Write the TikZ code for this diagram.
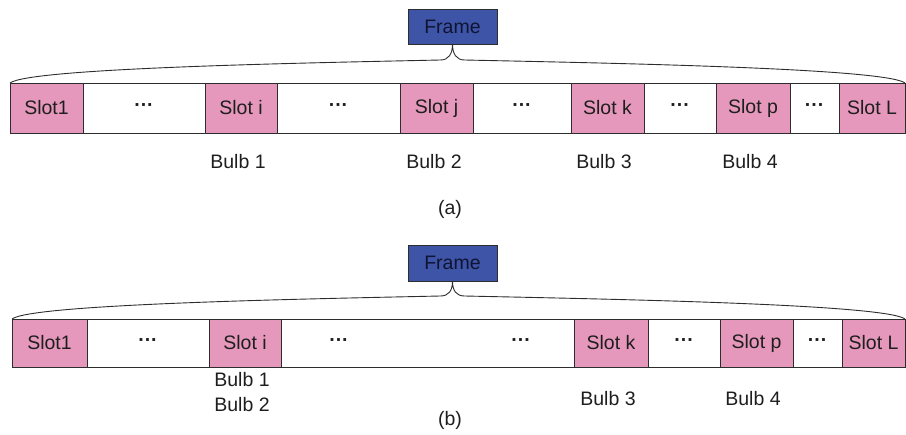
\documentclass[tikz,border=0pt]{standalone}
\usepackage{fontspec}
\setmainfont{Liberation Sans}
\usetikzlibrary{calc}
\definecolor{slotpink}{RGB}{230,152,188}
\definecolor{frameblue}{RGB}{62,84,166}
\definecolor{linegray}{RGB}{45,45,45}
\definecolor{textgray}{RGB}{30,30,30}
\definecolor{frametext}{RGB}{15,20,50}
\newcommand{\dotsmid}{\textbf{···}}
\begin{document}
\begin{tikzpicture}[x=1pt,y=-1pt,
  font=\fontsize{19.5}{23}\selectfont,
  slotbox/.style={draw=linegray, line width=0.8pt, fill=slotpink, anchor=north west,
    minimum height=50pt, inner sep=0pt, outer sep=0pt, text=textgray},
  gapbox/.style={slotbox, fill=white},
  framebox/.style={draw=linegray, line width=0.8pt, fill=frameblue, anchor=north west,
    minimum width=89pt, minimum height=35pt, inner sep=0pt, outer sep=0pt, text=frametext},
  brace/.style={draw=linegray, line width=0.9pt},
  lbl/.style={text=textgray, inner sep=0pt}]
\useasboundingbox (0,0) rectangle (906,435);

% ---------- (a) ----------
\node[framebox] (fa) at (408,9) {Frame};
\node[slotbox, minimum width=73pt]  (a1) at (10,83)  {Slot1};
\node[gapbox,  minimum width=122pt] (ad1) at (83,83) {\dotsmid};
\node[slotbox, minimum width=72pt]  (ai) at (205,83) {Slot i};
\node[gapbox,  minimum width=123pt] (ad2) at (277,83) {\dotsmid};
\node[slotbox, minimum width=73pt]  (aj) at (400,83) {Slot j};
\node[gapbox,  minimum width=98pt]  (ad3) at (473,83) {\dotsmid};
\node[slotbox, minimum width=73pt]  (ak) at (571,83) {Slot k};
\node[gapbox,  minimum width=72pt]  (ad4) at (644,83) {\dotsmid};
\node[slotbox, minimum width=74pt]  (ap) at (716,83) {Slot p};
\node[gapbox,  minimum width=49pt]  (ad5) at (790,83) {\dotsmid};
\node[slotbox, minimum width=66pt]  (aL) at (839,83) {Slot L};

\draw[brace] (a1.north west) .. controls +(20,-15) and +(-138,3) .. ($(fa.south)+(-12,16)$)
  .. controls +(8,0) and +(0,10) .. (fa.south)
  .. controls +(0,10) and +(-8,0) .. ($(fa.south)+(12,16)$)
  .. controls +(138,3) and +(-20,-15) .. (aL.north east);

\node[lbl] (ab1) at (238,162) {Bulb 1};
\node[lbl] (ab2) at (434,162) {Bulb 2};
\node[lbl] (ab3) at (604,162) {Bulb 3};
\node[lbl] (ab4) at (750,162) {Bulb 4};
\node[lbl] (capa) at (450,209) {(a)};

% ---------- (b) ----------
\node[framebox, minimum height=36pt] (fb) at (408,245) {Frame};
\node[slotbox, minimum height=48pt, minimum width=75pt]  (b1) at (12,319)  {Slot1};
\node[gapbox,  minimum height=48pt, minimum width=122pt] (bd1) at (87,319) {\dotsmid};
\node[slotbox, minimum height=48pt, minimum width=72pt]  (bi) at (209,319) {Slot i};
\node[gapbox,  minimum height=48pt, minimum width=293pt] (bd2) at (281,319) {};
\node[lbl] (bd2a) at (339,343) {\dotsmid};
\node[lbl] (bd2b) at (521,343) {\dotsmid};
\node[slotbox, minimum height=48pt, minimum width=74pt]  (bk) at (574,319) {Slot k};
\node[gapbox,  minimum height=48pt, minimum width=72pt]  (bd3) at (648,319) {\dotsmid};
\node[slotbox, minimum height=48pt, minimum width=73pt]  (bp) at (720,319) {Slot p};
\node[gapbox,  minimum height=48pt, minimum width=49pt]  (bd4) at (793,319) {\dotsmid};
\node[slotbox, minimum height=48pt, minimum width=63pt]  (bL) at (842,319) {Slot L};

\draw[brace] (b1.north west) .. controls +(20,-15) and +(-138,3) .. ($(fb.south)+(-12,15)$)
  .. controls +(8,0) and +(0,10) .. (fb.south)
  .. controls +(0,10) and +(-8,0) .. ($(fb.south)+(12,15)$)
  .. controls +(138,3) and +(-20,-15) .. (bL.north east);

\node[lbl] (bb1) at (242,380) {Bulb 1};
\node[lbl] (bb2) at (242,405) {Bulb 2};
\node[lbl] (bb3) at (608,399) {Bulb 3};
\node[lbl] (bb4) at (753,399) {Bulb 4};
\node[lbl] (capb) at (450,420) {(b)};
\end{tikzpicture}
\end{document}
